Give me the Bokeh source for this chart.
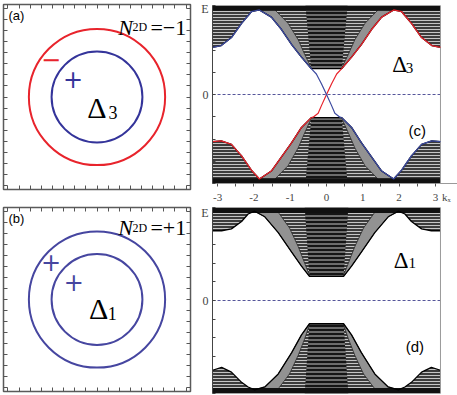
import math
from bokeh.plotting import figure
from bokeh.models import Label, LinearAxis, FixedTicker, Range1d
from bokeh.layouts import row, column
from bokeh.embed import file_html
from bokeh.resources import INLINE

# ---------------- data ----------------
# (a), (b): Fermi-surface circles (box spans -2.1 .. 2.1)
a_cx = [0.0, 0.0]
a_cy = [0.0, 0.0]
a_radii = [1.53, 1.02]
a_colors = ["#e8242c", "#34349a"]
b_cx = [0.0, 0.0]
b_cy = [0.0, 0.0]
b_radii = [1.53, 1.02]
b_colors = ["#4646a0", "#4646a0"]
box_ticks = [-2, -1.75, -1.5, -1.25, -1, -0.75, -0.5, -0.25, 0, 0.25, 0.5, 0.75, 1,
             1.25, 1.5, 1.75, 2]

# (c) Delta_3 : continuum edges
kc = [-3.14, -2.90, -2.62, -2.34, -2.07, -1.85, -1.52, -1.24, -0.96, -0.69, -0.42, 0.00,
      0.42, 0.69, 0.96, 1.24, 1.52, 1.85, 2.07, 2.34, 2.62, 2.90, 3.14]
c_cond = [0.53, 0.55, 0.64, 0.80, 0.93, 0.95, 0.87, 0.73, 0.56, 0.42, 0.29, 0.29,
          0.29, 0.42, 0.56, 0.73, 0.87, 0.95, 0.93, 0.80, 0.64, 0.55, 0.53]
c_val = [-0.53, -0.52, -0.56, -0.69, -0.85, -0.95, -0.86, -0.70, -0.54, -0.37, -0.26, -0.26,
         -0.26, -0.37, -0.54, -0.70, -0.86, -0.95, -0.85, -0.69, -0.56, -0.52, -0.53]
# (c) chiral edge states crossing the gap
c_red_k = [-0.42, -0.37, -0.23, -0.14, 0.0, 0.14, 0.28, 0.42]
c_red_E = [-0.26, -0.255, -0.21, -0.125, 0.0, 0.12, 0.23, 0.29]
c_blue_k = [-0.42, -0.28, -0.14, 0.0, 0.14, 0.23, 0.37, 0.42]
c_blue_E = [0.29, 0.23, 0.12, 0.0, -0.125, -0.21, -0.255, -0.26]
# (c) inner limits of the dense grey slope bundles
c_inL_k = [-1.42, -1.06, -0.78, -0.60, -0.42]
c_inL_cond = [0.95, 0.80, 0.615, 0.45, 0.30]
c_inL_val = [-0.95, -0.80, -0.60, -0.43, -0.27]
c_inR_k = [0.42, 0.60, 0.78, 1.06, 1.42]
c_inR_cond = [0.30, 0.45, 0.615, 0.80, 0.95]
c_inR_val = [-0.27, -0.43, -0.60, -0.80, -0.95]
# (c) central core of the bands
c_core_k = [-0.42, 0.42, 0.58, -0.58]
c_core_cond = [0.29, 0.29, 1.0, 1.0]
c_core_val = [-0.26, -0.26, -1.0, -1.0]

# (d) Delta_1 : continuum edges
kd = [-3.14, -2.89, -2.62, -2.34, -2.16, -1.98, -1.70, -1.33, -0.96, -0.69, -0.47, 0.00,
      0.47, 0.69, 0.96, 1.33, 1.70, 1.98, 2.16, 2.34, 2.62, 2.89, 3.14]
d_cond = [0.75, 0.75, 0.77, 0.85, 0.93, 0.96, 0.90, 0.73, 0.52, 0.37, 0.26, 0.26,
          0.26, 0.37, 0.52, 0.73, 0.90, 0.96, 0.93, 0.85, 0.77, 0.75, 0.75]
d_val = [-0.75, -0.72, -0.77, -0.88, -0.93, -0.96, -0.93, -0.79, -0.56, -0.37, -0.25, -0.25,
         -0.25, -0.37, -0.56, -0.79, -0.93, -0.96, -0.93, -0.88, -0.77, -0.72, -0.75]
d_inL_k = [-1.35, -1.02, -0.78, -0.60, -0.47]
d_inL_cond = [0.96, 0.78, 0.58, 0.40, 0.27]
d_inL_val = [-0.96, -0.79, -0.59, -0.41, -0.26]
d_inR_k = [0.47, 0.60, 0.78, 1.02, 1.35]
d_inR_cond = [0.27, 0.40, 0.58, 0.78, 0.96]
d_inR_val = [-0.26, -0.41, -0.59, -0.79, -0.96]
d_core_k = [-0.47, 0.47, 0.60, -0.60]
d_core_cond = [0.26, 0.26, 1.0, 1.0]
d_core_val = [-0.25, -0.25, -1.0, -1.0]

E_lim = [-1.0, 1.0]
zero_E = [0.0, 0.0]
strip_E = [-0.94, 0.94]
kx_labels = {-3: "-3", -2: "-2", -1: "-1", 0: "0", 1: "1", 2: "2", 3: "3", 3.30: "k\u2093"}
kx_ticks = [-3, -2.5, -2, -1.5, -1, -0.5, 0, 0.5, 1, 1.5, 2, 2.5, 3]
c_yticks = [-1.0, -0.75, -0.5, -0.25, 0, 0.25, 0.5, 0.75, 1.0]
d_yticks = [-1.0, -0.8, -0.6, -0.4, -0.2, 0, 0.2, 0.4, 0.6, 0.8, 1.0]
y_labels = {0: "0", 0.96: "E"}

RED = "#e8242c"
BLUE = "#3c4aa0"
SERIF = "Liberation Serif"
SANS = "Liberation Sans"
PI = math.pi
K_MAX = 3.609


def lab(p, x, y, text, size, font=SERIF, color="black", align="left",
        baseline="alphabetic", style="normal"):
    p.add_layout(Label(x=x, y=y, text=text, text_font=font, text_font_size=f"{size}px",
                       text_color=color, text_align=align, text_baseline=baseline,
                       text_font_style=style))


def box_axis(ax):
    ax.ticker = FixedTicker(ticks=[], minor_ticks=box_ticks)
    ax.major_tick_in = 0
    ax.major_tick_out = 0
    ax.minor_tick_in = 4
    ax.minor_tick_out = 0
    ax.minor_tick_line_color = "#555555"
    ax.axis_line_color = None
    ax.major_label_standoff = 0


def square_panel(h, mbt, mbb):
    p = figure(width=197, height=h, x_range=Range1d(-2.1, 2.1), y_range=Range1d(-2.1, 2.1),
               output_backend="svg", toolbar_location=None,
               min_border_left=3, min_border_right=7, min_border_top=mbt, min_border_bottom=mbb)
    p.add_layout(LinearAxis(), "above")
    p.add_layout(LinearAxis(), "right")
    for ax in p.axis:
        box_axis(ax)
    p.grid.visible = False
    p.outline_line_color = "#5a5a5a"
    p.outline_line_width = 1.5
    return p


# ---------------- (a) ----------------
pa = square_panel(198, 4, 9)
pa.circle(x=a_cx, y=a_cy, radius=a_radii, fill_color=None, line_color=a_colors, line_width=2)
lab(pa, -1.99, 2.01, "(a)", 13, font=SANS, baseline="top")
lab(pa, 0.48, 1.58, "N", 22, style="italic")
lab(pa, 0.80, 1.58, "2D", 12)
lab(pa, 1.20, 1.58, "=\u22121", 22)
lab(pa, -1.03, 0.87, "\u2212", 24, font="DejaVu Sans", color=RED, align="center", baseline="middle")
lab(pa, -0.54, 0.42, "+", 24, font="DejaVu Sans", color="#34349a", align="center", baseline="middle")
lab(pa, -0.22, -0.24, "\u0394", 30)
lab(pa, 0.26, -0.36, "3", 18)

# ---------------- (b) ----------------
pb = square_panel(197, 9, 4)
pb.circle(x=b_cx, y=b_cy, radius=b_radii, fill_color=None, line_color=b_colors, line_width=2)
lab(pb, -1.99, 2.02, "(b)", 13, font=SANS, baseline="top")
lab(pb, 0.48, 1.64, "N", 22, style="italic")
lab(pb, 0.80, 1.64, "2D", 12)
lab(pb, 1.20, 1.64, "=+1", 22)
lab(pb, -1.03, 0.85, "+", 24, font="DejaVu Sans", color="#4646a0", align="center", baseline="middle")
lab(pb, -0.52, 0.39, "+", 24, font="DejaVu Sans", color="#4646a0", align="center", baseline="middle")
lab(pb, -0.18, -0.21, "\u0394", 30)
lab(pb, 0.24, -0.33, "1", 18)


# ---------------- band panels ----------------
def band_panel(h, mbt, mbb, yticks, with_x):
    p = figure(width=260, height=h, x_range=Range1d(-PI, K_MAX), y_range=Range1d(-1, 1),
               output_backend="svg", toolbar_location=None,
               x_axis_location="below" if with_x else None,
               min_border_left=15, min_border_right=0, min_border_top=mbt, min_border_bottom=mbb)
    p.grid.visible = False
    p.outline_line_color = None
    ya = p.yaxis[0]
    ya.ticker = FixedTicker(ticks=list(y_labels.keys()), minor_ticks=yticks)
    ya.major_label_overrides = y_labels
    ya.major_tick_in = 0
    ya.major_tick_out = 0
    ya.minor_tick_in = 3
    ya.minor_tick_out = 0
    ya.axis_line_color = "#444444"
    ya.minor_tick_line_color = "#444444"
    ya.major_label_text_font = SERIF
    ya.major_label_text_font_size = "12px"
    ya.major_label_standoff = 4
    ya.bounds = (-1, 1)
    if with_x:
        xa = p.xaxis[0]
        xa.ticker = FixedTicker(ticks=list(kx_labels.keys()), minor_ticks=kx_ticks)
        xa.major_label_overrides = kx_labels
        xa.major_tick_in = 0
        xa.major_tick_out = 0
        xa.minor_tick_in = 0
        xa.minor_tick_out = 3
        xa.axis_line_color = "#9a9a9a"
        xa.minor_tick_line_color = "#555555"
        xa.major_label_text_font = SERIF
        xa.major_label_text_font_size = "11px"
        xa.major_label_standoff = 4
    return p


def draw_bands(p, k, cond, val, inL_k, inL_c, inL_v, inR_k, inR_c, inR_v,
               core_k, core_c, core_v, i_peak, i_gap):
    j_gap = len(k) - 1 - i_gap
    j_peak = len(k) - 1 - i_peak
    hatch = dict(hatch_pattern="horizontal_line", hatch_color="white",
                 hatch_alpha=0.7, hatch_scale=3, hatch_weight=1)
    # full continua
    p.patch(k + [k[-1], k[0]], cond + [E_lim[1], E_lim[1]], fill_color="#3c3c3c",
            line_color=None, **hatch)
    p.patch(k + [k[-1], k[0]], val + [E_lim[0], E_lim[0]], fill_color="#3c3c3c",
            line_color=None, **hatch)
    # grey slope bundles
    grey = dict(fill_color="#929292", line_color="#2a2a2a", line_width=0.8)
    p.patch(k[i_peak:i_gap + 1] + inL_k[::-1], cond[i_peak:i_gap + 1] + inL_c[::-1], **grey)
    p.patch(k[j_gap:j_peak + 1] + inR_k[::-1], cond[j_gap:j_peak + 1] + inR_c[::-1], **grey)
    p.patch(k[i_peak:i_gap + 1] + inL_k[::-1], val[i_peak:i_gap + 1] + inL_v[::-1], **grey)
    p.patch(k[j_gap:j_peak + 1] + inR_k[::-1], val[j_gap:j_peak + 1] + inR_v[::-1], **grey)
    # dense central core
    core = dict(fill_color="#151515", line_color=None, hatch_pattern="horizontal_line",
                hatch_color="white", hatch_alpha=0.75, hatch_scale=4, hatch_weight=1)
    p.patch(core_k, core_c, **core)
    p.patch(core_k, core_v, **core)
    # black bundles at top and bottom
    p.quad(left=k[0], right=k[-1], bottom=strip_E[1], top=E_lim[1], fill_color="#111111",
           line_color=None)
    p.quad(left=k[0], right=k[-1], bottom=E_lim[0], top=strip_E[0], fill_color="#111111",
           line_color=None)
    # continuum edges
    p.line(k, cond, line_color="black", line_width=1.3)
    p.line(k, val, line_color="black", line_width=1.3)
    # zero-energy reference and right frame edge
    p.line([k[0], k[-1]], zero_E, line_color="#55559a", line_dash="3 2", line_width=1)
    p.line([k[-1], k[-1]], E_lim, line_color="#9a9a9a", line_width=1)


# ---------------- (c) ----------------
pc = band_panel(205, 5, 18, c_yticks, True)
draw_bands(pc, kc, c_cond, c_val, c_inL_k, c_inL_cond, c_inL_val, c_inR_k, c_inR_cond,
           c_inR_val, c_core_k, c_core_cond, c_core_val, 5, 10)
pc.line(kc[:11], c_cond[:11], line_color=BLUE, line_width=1.3)
pc.line(kc[12:], c_cond[12:], line_color=RED, line_width=1.3)
pc.line(kc[:11], c_val[:11], line_color=RED, line_width=1.3)
pc.line(kc[12:], c_val[12:], line_color=BLUE, line_width=1.3)
pc.line(c_red_k, c_red_E, line_color=RED, line_width=1.2)
pc.line(c_blue_k, c_blue_E, line_color=BLUE, line_width=1.2)
lab(pc, 1.81, 0.34, "\u0394", 23)
lab(pc, 2.18, 0.30, "3", 15)
lab(pc, 2.26, -0.31, "(c)", 15, font=SANS, baseline="top")

# ---------------- (d) ----------------
pd = band_panel(190, 2, 2, d_yticks, False)
draw_bands(pd, kd, d_cond, d_val, d_inL_k, d_inL_cond, d_inL_val, d_inR_k, d_inR_cond,
           d_inR_val, d_core_k, d_core_cond, d_core_val, 5, 10)
lab(pd, 1.85, 0.43, "\u0394", 23)
lab(pd, 2.26, 0.40, "1", 15)
lab(pd, 2.18, -0.40, "(d)", 15, font=SANS, baseline="top")

layout = row(column(pa, pb), column(pc, pd))
open("out.html", "w").write(file_html(layout, INLINE))
